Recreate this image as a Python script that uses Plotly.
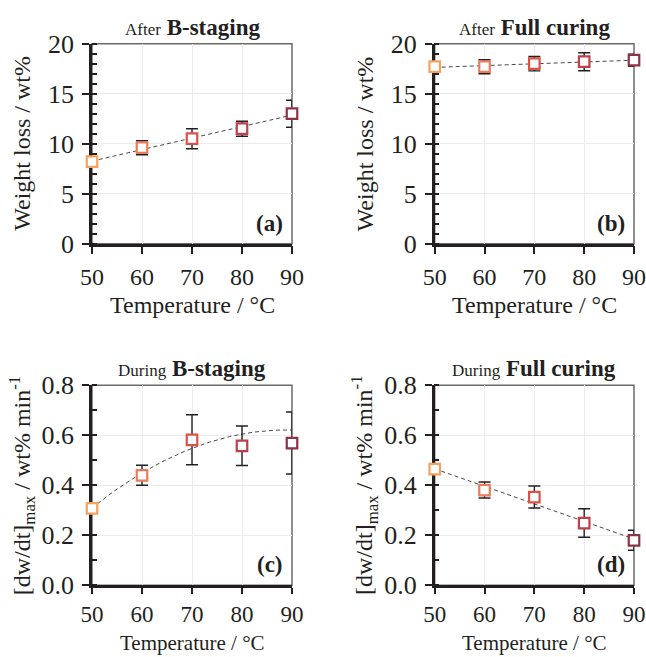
import numpy as np
import plotly.graph_objects as go

# ---- data -------------------------------------------------------------
temps = [50, 60, 70, 80, 90]
point_colors = ["#F4A25E", "#EC7B5C", "#DD5248", "#BE3F48", "#8C3345"]

loss_bstage = [8.2, 9.6, 10.5, 11.5, 13.0]
loss_bstage_err = [0.0, 0.7, 1.0, 0.75, 1.35]

loss_full = [17.7, 17.7, 18.0, 18.2, 18.35]
loss_full_err = [0.0, 0.7, 0.72, 0.9, 0.6]

rate_bstage = [0.308, 0.44, 0.582, 0.558, 0.569]
rate_bstage_err = [0.0, 0.04, 0.1, 0.079, 0.124]
# quadratic trend in t = (T - 70) / 10 : a + b t + c t^2
rate_bstage_trend = [0.548, 0.0778, -0.0206]

rate_full = [0.465, 0.381, 0.353, 0.249, 0.18]
rate_full_err = [0.0, 0.032, 0.044, 0.057, 0.04]

FONT = "Liberation Serif"
INK = "#231f20"
W, H = 646, 657

# plot-area pixel boxes: (left, right, top, bottom)
boxes = [(92, 292, 43.7, 243.7), (434.7, 634, 43.7, 243.7),
         (92, 292, 385.3, 585.3), (434.7, 634, 385.3, 585.3)]

panels = [
    dict(y=loss_bstage, err=loss_bstage_err, fit="lin", pre="After", main="B-staging",
         tag="(a)", yrange=[0, 20], dtick=5, minor=1, fmt="d", ytitle="Weight loss / wt%"),
    dict(y=loss_full, err=loss_full_err, fit="lin", pre="After", main="Full curing",
         tag="(b)", yrange=[0, 20], dtick=5, minor=1, fmt="d", ytitle="Weight loss / wt%"),
    dict(y=rate_bstage, err=rate_bstage_err, fit="quad", pre="During", main="B-staging",
         tag="(c)", yrange=[0, 0.8], dtick=0.2, minor=0.1, fmt=".1f",
         ytitle="[dw/dt]<sub>max</sub> / wt% min<sup>-1</sup>"),
    dict(y=rate_full, err=rate_full_err, fit="lin", pre="During", main="Full curing",
         tag="(d)", yrange=[0, 0.8], dtick=0.2, minor=0.1, fmt=".1f",
         ytitle="[dw/dt]<sub>max</sub> / wt% min<sup>-1</sup>"),
]

fig = go.Figure()
layout = dict(width=W, height=H, margin=dict(l=0, r=0, t=0, b=0, pad=0),
              paper_bgcolor="white", plot_bgcolor="white", showlegend=False,
              font=dict(family=FONT, size=24, color=INK))
annotations, shapes = [], []

for i, p in enumerate(panels):
    n = i + 1
    ov = i + 5
    xs = "" if n == 1 else str(n)
    l, r, t, b = boxes[i]
    xdom = [l / W, r / W]
    ydom = [1 - b / H, 1 - t / H]
    bottom_row = i >= 2

    # trend line
    xt = np.linspace(50, 90, 81)
    if p["fit"] == "lin":
        coef = np.polyfit(temps, p["y"], 1)
        yt = np.polyval(coef, xt)
    else:
        a, bb, c = rate_bstage_trend
        tt = (xt - 70) / 10
        yt = a + bb * tt + c * tt ** 2
    fig.add_trace(go.Scatter(x=xt, y=yt, mode="lines", xaxis="x" + xs, yaxis="y" + xs,
                             line=dict(color="#4a4a4a", width=1, dash="4px,3px"),
                             hoverinfo="skip", cliponaxis=False))
    # data points with error bars
    fig.add_trace(go.Scatter(
        x=temps, y=p["y"], mode="markers", xaxis="x" + xs, yaxis="y" + xs,
        cliponaxis=False,
        marker=dict(symbol="square", size=10.5, color="white",
                    line=dict(color=point_colors, width=2.2)),
        error_y=dict(type="data", array=p["err"], visible=True,
                     color=INK, thickness=1.4, width=6)))

    layout["xaxis" + xs] = dict(
        domain=xdom, anchor="y" + xs, range=[50, 90], dtick=10, tick0=50,
        automargin=False,
        showline=True, linecolor=INK, linewidth=2.5, layer="below traces",
        ticks="outside", ticklen=6 if bottom_row else 8, tickwidth=1.5, tickcolor=INK,
        ticklabelstandoff=0 if bottom_row else 2,
        showgrid=True, gridcolor="#ececec", gridwidth=1,
        zeroline=False, tickfont=dict(size=23 if bottom_row else 24, family=FONT, color=INK))
    layout["yaxis" + xs] = dict(
        domain=ydom, anchor="x" + xs, range=p["yrange"], dtick=p["dtick"], tick0=0,
        tickformat=p["fmt"], automargin=False,
        showline=True, linecolor=INK, linewidth=2.5, layer="below traces",
        ticks="outside", ticklen=7, tickwidth=1.5, tickcolor=INK,
        ticklabelstandoff=3, showgrid=True, gridcolor="#ececec", gridwidth=1,
        zeroline=False, tickfont=dict(size=26, family=FONT, color=INK),
        minor=dict(dtick=p["minor"], tick0=0, ticks="inside", ticklen=5,
                   tickwidth=1.5, tickcolor=INK, showgrid=False))
    # inner halves of the major ticks
    layout["xaxis%d" % ov] = dict(
        domain=xdom, anchor="y" + xs, overlaying="x" + xs, range=[50, 90], dtick=10,
        tick0=50, ticks="inside", ticklen=5, tickwidth=1.5, tickcolor=INK,
        automargin=False,
        showticklabels=False, showgrid=False, showline=False, zeroline=False)
    layout["yaxis%d" % ov] = dict(
        domain=ydom, anchor="x" + xs, overlaying="y" + xs, range=p["yrange"],
        dtick=p["dtick"], tick0=0, ticks="inside", ticklen=5, tickwidth=1.5,
        tickcolor=INK, showticklabels=False, showgrid=False, showline=False,
        automargin=False, zeroline=False)

    # grey frame on top / right
    shapes.append(dict(type="rect", xref="x%s domain" % xs, yref="y%s domain" % xs,
                       x0=0, x1=1, y0=0, y1=1, line=dict(color="#6a6a6a", width=1.5),
                       layer="below"))

    xr, yr = "x%s domain" % xs, "y%s domain" % xs
    annotations += [
        dict(xref=xr, yref=yr, x=0.5, y=1, yanchor="bottom", yshift=2, showarrow=False,
             text="<span style='font-size:17px'>%s</span> <b>%s</b>" % (p["pre"], p["main"]),
             font=dict(size=23, family=FONT, color=INK)),
        dict(xref=xr, yref=yr, x=0.965, y=0.03, xanchor="right", yanchor="bottom",
             showarrow=False, text="<b>%s</b>" % p["tag"],
             font=dict(size=23, family=FONT, color=INK)),
        dict(xref=xr, yref=yr, x=0.5, y=0, yshift=-57.5 if bottom_row else -61,
             yanchor="middle", showarrow=False, text="Temperature / °C",
             font=dict(size=21 if bottom_row else 24, family=FONT, color=INK)),
        dict(xref=xr, yref=yr, x=0, y=0.5, xshift=-70, xanchor="center", yanchor="middle",
             textangle=-90, showarrow=False, text=p["ytitle"],
             font=dict(size=24, family=FONT, color=INK)),
    ]

layout["annotations"] = annotations
layout["shapes"] = shapes
fig.update_layout(**layout)
fig.write_html("out.html")
